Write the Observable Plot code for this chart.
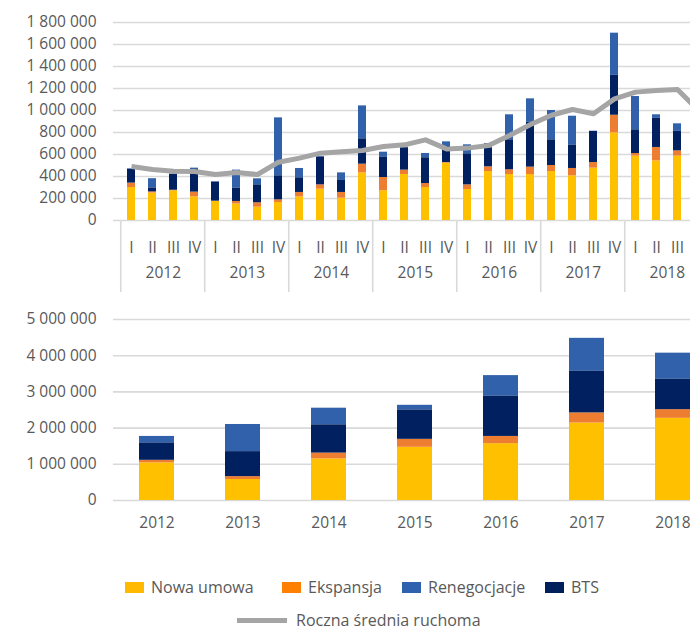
<!DOCTYPE html>
<html>
<head>
<meta charset="utf-8">
<script src="https://cdn.jsdelivr.net/npm/d3@7"></script>
<script src="https://cdn.jsdelivr.net/npm/@observablehq/plot@0.6"></script>
<style>
  html, body { margin: 0; padding: 0; overflow: hidden; background: #fff; width: 690px; height: 630px; }
  body { position: relative; font-family: "Open Sans", sans-serif; color: #595959; }
  #top { position: absolute; left: 0; top: 0; width: 730px; }
  #bottom { position: absolute; left: 0; top: 300px; width: 730px; }
  #top svg, #bottom svg { max-width: none !important; }
  #legend { position: absolute; left: 0; top: 560px; width: 730px; height: 70px; font-size: 16px; line-height: 16px; }
  .item { position: absolute; display: flex; align-items: center; white-space: nowrap; height: 16px; }
  .sw { width: 19px; height: 11px; margin-right: 7px; }
  .ln { width: 50px; height: 5px; margin-right: 9px; background: #a5a5a5; }
</style>
</head>
<body>
<div id="top"></div>
<div id="bottom"></div>
<div id="legend"></div>
<script>
// ---------- data ----------
const years = ["2012", "2013", "2014", "2015", "2016", "2017", "2018"];
const quarters = ["I", "II", "III", "IV"];
const seriesNames = ["Nowa umowa", "Ekspansja", "Renegocjacje", "BTS"];
const lineName = "Roczna średnia ruchoma";
const seriesColors = ["#FFC000", "#ED7D31", "#3161AA", "#002060"];
const legendColors = ["#FFB900", "#FF8000", "#2F62AE", "#00205B"];
const stackOrder = ["Nowa umowa", "Ekspansja", "BTS", "Renegocjacje"];

// quarterly values (thousand m²), 2012 I ... 2018 IV
const qNowa  = [300, 250, 270, 215, 173, 150, 121, 164, 215, 285, 203, 433, 270, 418, 300, 521, 282, 445, 418, 418, 445, 406, 476, 797, 585, 542, 585, 558];
const qEksp  = [40, 10, 5, 43, 3, 23, 40, 24, 40, 39, 52, 79, 121, 40, 36, 6, 42, 43, 43, 67, 55, 67, 51, 160, 24, 122, 48, 46];
const qReneg = [5, 85, 3, 12, 5, 164, 55, 527, 85, 6, 69, 300, 45, 5, 39, 42, 82, 42, 228, 212, 267, 263, 3, 382, 303, 31, 67, 319];
const qBTS   = [125, 35, 145, 206, 172, 121, 163, 218, 133, 252, 109, 230, 185, 203, 234, 146, 282, 170, 272, 409, 233, 212, 282, 364, 215, 266, 179, 180];
const qAvg   = [491, 464, 448, 445, 418, 436, 418, 530, 567, 612, 624, 636, 673, 688, 733, 651, 658, 682, 773, 873, 957, 1009, 970, 1106, 1167, 1182, 1191, 1000];

// annual values (thousand m²)
const yNowa  = [1040, 580, 1150, 1470, 1570, 2140, 2270];
const yEksp  = [70, 80, 160, 220, 200, 280, 240];
const yReneg = [180, 750, 460, 130, 570, 910, 720];
const yBTS   = [480, 690, 780, 810, 1110, 1150, 840];

// ---------- build tables ----------
const keys = years.flatMap(y => quarters.map(q => y + " " + q));
const qSeries = [qNowa, qEksp, qReneg, qBTS];
const ySeries = [yNowa, yEksp, yReneg, yBTS];
const qRows = keys.flatMap((k, i) => seriesNames.map((s, j) => ({key: k, series: s, value: qSeries[j][i] * 1000})));
const avgRows = keys.map((k, i) => ({key: k, value: qAvg[i] * 1000}));
const yRows = years.flatMap((y, i) => seriesNames.map((s, j) => ({year: y, series: s, value: ySeries[j][i] * 1000})));

const fmt = d3.formatLocale({thousands: " ", grouping: [3], decimal: ","}).format(",d");

// ---------- layout ----------
const W = 730, ML = 113, MR = 14;
const step = (W - ML - MR) / keys.length;
const txt = "#595959", grid = "#d9d9d9";
const baseStyle = {fontFamily: "'Open Sans', sans-serif", fontSize: "15.5px", color: txt, background: "white", overflow: "visible", maxWidth: "none"};

const topTicks = d3.range(0, 1800001, 200000);
const topChart = Plot.plot({
  width: W, height: 300,
  marginLeft: ML, marginRight: MR, marginTop: 22, marginBottom: 80,
  style: baseStyle,
  x: {domain: keys, paddingInner: 0.6, paddingOuter: 0.3, label: null},
  y: {domain: [0, 1800000], label: null},
  color: {domain: seriesNames, range: seriesColors},
  marks: [
    Plot.gridY(topTicks, {stroke: grid, strokeOpacity: 1, strokeWidth: 1.6}),
    Plot.axisY(topTicks, {tickSize: 0, tickPadding: 17, tickFormat: fmt, label: null}),
    Plot.ruleX(years.map(y => y + " I"), {dx: -step / 2, insetTop: 198, insetBottom: -72, stroke: grid, strokeWidth: 1.6}),
    Plot.ruleX(["2018 IV"], {dx: step / 2, insetTop: 198, insetBottom: -72, stroke: grid, strokeWidth: 1.6}),
    Plot.barY(qRows, {x: "key", y: "value", fill: "series", order: stackOrder}),
    Plot.line(avgRows, {x: "key", y: "value", stroke: "#a5a5a5", strokeWidth: 5, strokeLinejoin: "round", strokeLinecap: "butt"}),
    Plot.axisX({tickSize: 0, tickPadding: 21, tickFormat: d => d.split(" ")[1], label: null}),
    Plot.text(years, {x: d => d + " II", text: d => d, dx: step / 2, frameAnchor: "bottom", dy: 57, fill: txt})
  ]
});
document.getElementById("top").append(topChart);

const botTicks = d3.range(0, 5000001, 1000000);
const bottomChart = Plot.plot({
  width: W, height: 240,
  marginLeft: ML, marginRight: MR, marginTop: 19, marginBottom: 40,
  style: baseStyle,
  x: {domain: years, paddingInner: 0.594, paddingOuter: 0.297, label: null},
  y: {domain: [0, 5000000], label: null},
  color: {domain: seriesNames, range: seriesColors},
  marks: [
    Plot.gridY(botTicks, {stroke: grid, strokeOpacity: 1, strokeWidth: 1.6}),
    Plot.axisY(botTicks, {tickSize: 0, tickPadding: 17, tickFormat: fmt, label: null}),
    Plot.barY(yRows, {x: "year", y: "value", fill: "series", order: stackOrder}),
    Plot.axisX({tickSize: 0, tickPadding: 16, label: null})
  ]
});
document.getElementById("bottom").append(bottomChart);

// ---------- legend ----------
const legendX = [125, 282, 402, 545];
const legend = d3.select("#legend");
seriesNames.forEach((s, i) => {
  const it = legend.append("div").attr("class", "item")
    .style("left", legendX[i] + "px").style("top", "19px");
  it.append("div").attr("class", "sw").style("background", legendColors[i]);
  it.append("span").text(s);
});
const li = legend.append("div").attr("class", "item").style("left", "237px").style("top", "52px");
li.append("div").attr("class", "ln");
li.append("span").text(lineName);
</script>
</body>
</html>
